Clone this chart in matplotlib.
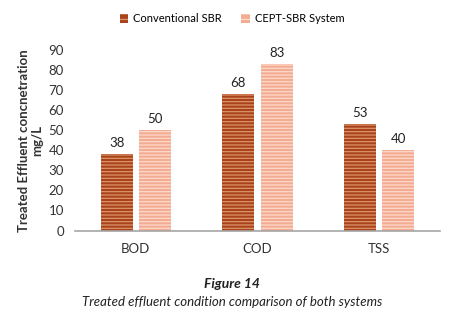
import numpy as np
import matplotlib
matplotlib.use("Agg")
import matplotlib.pyplot as plt
from matplotlib.patches import Patch

# ── data ─────────────────────────────────────────────────────────────
categories = ["BOD", "COD", "TSS"]
conventional = [38, 68, 53]
cept_sbr = [50, 83, 40]
series_names = ["Conventional SBR", "CEPT-SBR System"]
yticks = [0, 10, 20, 30, 40, 50, 60, 70, 80, 90]

# ── style ────────────────────────────────────────────────────────────
plt.rcParams["font.family"] = ["Lato", "DejaVu Sans"]
plt.rcParams["hatch.linewidth"] = 0.9
dark_face, dark_hatch = "#a8431b", "#dd9468"
light_face, light_hatch = "#f3ab92", "#fcd9ca"

fig = plt.figure(figsize=(4.64, 3.2), dpi=100)
ax = fig.add_axes([75 / 464, 1 - 230.5 / 320, 365 / 464, 180.5 / 320])

x = np.arange(len(categories))
w = 0.265
gap = 0.05
b1 = ax.bar(x - (w + gap) / 2, conventional, w, color=dark_face,
            edgecolor=dark_hatch, linewidth=0, hatch="-----")
b2 = ax.bar(x + (w + gap) / 2, cept_sbr, w, color=light_face,
            edgecolor=light_hatch, linewidth=0, hatch="-----")

for bars, vals in [(b1, conventional), (b2, cept_sbr)]:
    for r, v in zip(bars, vals):
        ax.text(r.get_x() + r.get_width() / 2, v + 2.5, str(v),
                ha="center", va="bottom", fontsize=9.5, color="#222222")

ax.set_xlim(-0.5, len(categories) - 0.5)
ax.set_ylim(0, 90)
ax.set_yticks(yticks)
ax.set_xticks(x)
ax.set_xticklabels(categories)
ax.tick_params(length=0, labelsize=9.5, colors="#333333")
ax.tick_params(axis="x", pad=9)
ax.tick_params(axis="y", pad=8)
for s in ["top", "right", "left"]:
    ax.spines[s].set_visible(False)
ax.spines["bottom"].set_color("#a6a6a6")
ax.spines["bottom"].set_linewidth(1.2)

ax.set_ylabel("Treated Effluent concnetration\nmg/L", fontsize=9.5,
              fontweight="bold", color="#333333", labelpad=4, linespacing=1.1)

fig.legend(handles=[Patch(facecolor=dark_face, edgecolor=dark_hatch, hatch="---", linewidth=0),
                    Patch(facecolor=light_face, edgecolor=light_hatch, hatch="---", linewidth=0)],
           labels=series_names, loc="center", bbox_to_anchor=(0.5, 1 - 19 / 320),
           ncol=2, frameon=False, fontsize=8, handlelength=0.8, handleheight=0.8,
           handletextpad=0.4, columnspacing=1.8)

fig.text(0.5, 1 - 284 / 320, "Figure 14", ha="center", va="center",
         fontsize=10, fontweight="bold", style="italic", color="#222222")
fig.text(0.5, 1 - 302 / 320, "Treated effluent condition comparison of both systems",
         ha="center", va="center", fontsize=9.5, style="italic", color="#222222")

fig.savefig("out.png", dpi=100)
